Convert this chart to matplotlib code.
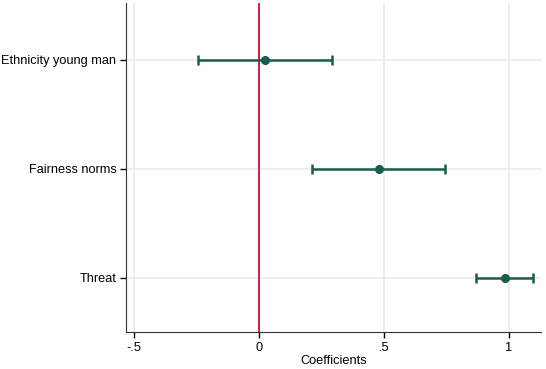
import matplotlib.pyplot as plt

# Coefficient estimates with 95% CIs
labels = ["Ethnicity young man", "Fairness norms", "Threat"]
coefs = [0.023, 0.479, 0.986]
ci_low = [-0.244, 0.212, 0.870]
ci_high = [0.291, 0.745, 1.098]
xticks = [-0.5, 0, 0.5, 1]
xtick_labels = ["-.5", "0", ".5", "1"]

plt.rcParams["font.family"] = ["Liberation Sans", "DejaVu Sans"]

ci_color = "#1b5c4e"
ref_color = "#c4122f"
grid_color = "#ebebeb"

fig = plt.figure(figsize=(5.46, 3.69), dpi=100)
ax = fig.add_axes([0.2308, 0.1003, 0.7602, 0.8917])

ypos = list(range(1, len(labels) + 1))
err_low = [c - l for c, l in zip(coefs, ci_low)]
err_high = [h - c for c, h in zip(coefs, ci_high)]

ax.errorbar(
    coefs, ypos,
    xerr=[err_low, err_high],
    fmt="o",
    color=ci_color,
    ecolor=ci_color,
    markersize=5.5,
    elinewidth=1.8,
    capsize=3.5,
    capthick=1.8,
    zorder=3,
)
ax.axvline(0, color=ref_color, linewidth=1.3, zorder=2)

ax.set_xlim(-0.533, 1.13)
ax.set_ylim(3.5, 0.48)
ax.set_xticks(xticks)
ax.set_xticklabels(xtick_labels)
ax.set_yticks(ypos)
ax.set_yticklabels(labels)
ax.set_xlabel("Coefficients", fontsize=9.2, labelpad=1)

ax.grid(True, color=grid_color, linewidth=1.2, zorder=0)
ax.set_axisbelow(True)

ax.tick_params(axis="both", labelsize=9.2, colors="black", length=4, width=1, pad=3)

for side in ["top", "right"]:
    ax.spines[side].set_visible(False)
ax.spines["left"].set_color("#333333")
ax.spines["bottom"].set_color("#333333")

fig.savefig("out.png", dpi=100)
